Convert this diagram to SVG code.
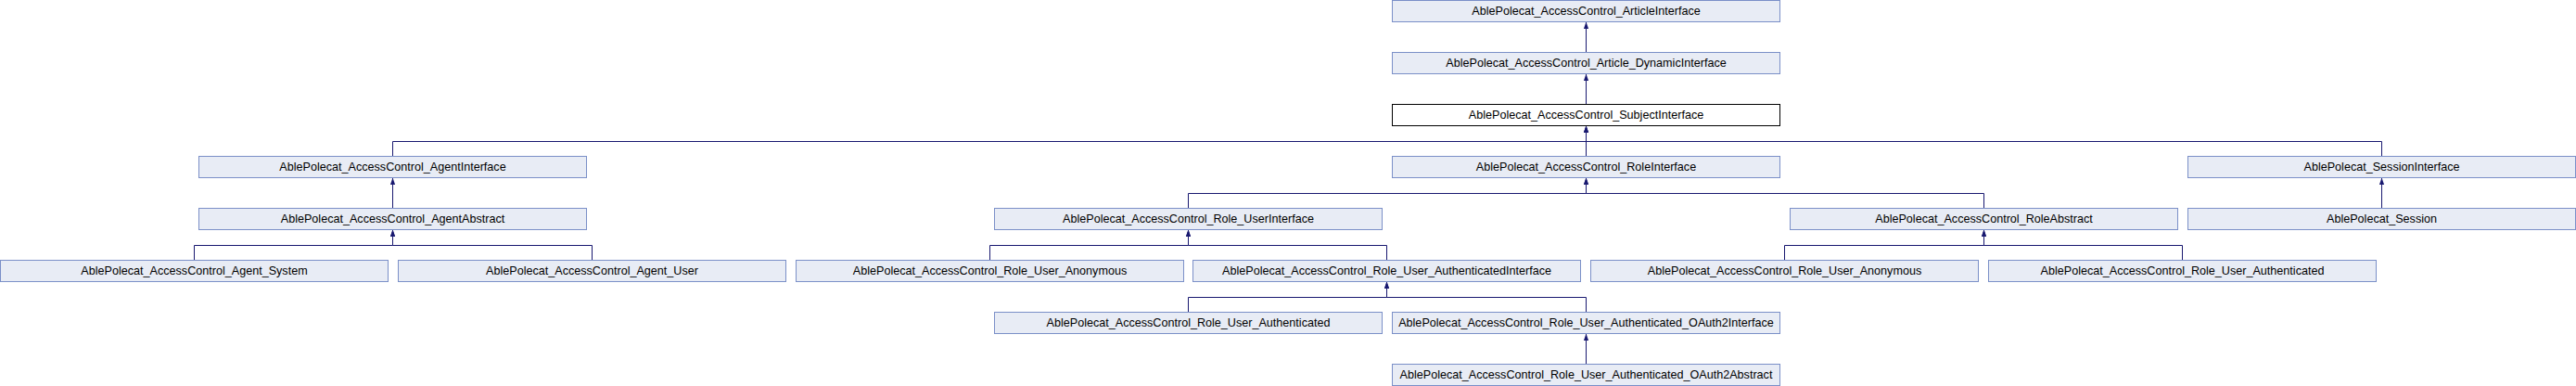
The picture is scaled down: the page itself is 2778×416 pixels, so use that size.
<svg xmlns="http://www.w3.org/2000/svg" width="2778" height="416" viewBox="0 0 2778 416">
<style>
.n rect{fill:#e8ecf5;stroke:#7b90c8;stroke-width:1}
.n.f rect{fill:#ffffff;stroke:#000000}
.n text{font-family:"Liberation Sans",Arial,sans-serif;font-size:12.6px;fill:#000;text-anchor:middle}
.e path{fill:none;stroke:#191970;stroke-width:1;marker-end:url(#ah)}
</style>
<defs>
<marker id="ah" markerUnits="userSpaceOnUse" viewBox="0 -3 8 6" markerWidth="8" markerHeight="6" refX="7.5" refY="0" orient="auto">
<path d="M0,-2.6 L7.5,0 L0,2.6 z" fill="#191970" stroke="none"/>
</marker>
</defs>
<g id="edges" class="e">
<path d="M1710.5,56.5 V23.5"/>
<path d="M1710.5,112.5 V79.5"/>
<path d="M423.5,168.5 V152.5 H1710.5 V135.5"/>
<path d="M1710.5,168.5 V135.5"/>
<path d="M2568.5,168.5 V152.5 H1710.5 V135.5"/>
<path d="M423.5,224.5 V191.5"/>
<path d="M1281.5,224.5 V208.5 H1710.5 V191.5"/>
<path d="M2139.5,224.5 V208.5 H1710.5 V191.5"/>
<path d="M2568.5,224.5 V191.5"/>
<path d="M209.5,280.5 V264.5 H423.5 V247.5"/>
<path d="M638.5,280.5 V264.5 H423.5 V247.5"/>
<path d="M1067.5,280.5 V264.5 H1281.5 V247.5"/>
<path d="M1495.5,280.5 V264.5 H1281.5 V247.5"/>
<path d="M1924.5,280.5 V264.5 H2139.5 V247.5"/>
<path d="M2353.5,280.5 V264.5 H2139.5 V247.5"/>
<path d="M1281.5,336.5 V320.5 H1495.5 V303.5"/>
<path d="M1710.5,336.5 V320.5 H1495.5 V303.5"/>
<path d="M1710.5,392.5 V359.5"/>
</g>
<g id="n_article" class="n"><rect x="1501.5" y="0.5" width="418" height="23"/><text x="1710.5" y="15.5">AblePolecat_AccessControl_ArticleInterface</text></g>
<g id="n_article_dynamic" class="n"><rect x="1501.5" y="56.5" width="418" height="23"/><text x="1710.5" y="71.5">AblePolecat_AccessControl_Article_DynamicInterface</text></g>
<g id="n_subject" class="n f"><rect x="1501.5" y="112.5" width="418" height="23"/><text x="1710.5" y="127.5">AblePolecat_AccessControl_SubjectInterface</text></g>
<g id="n_agent_if" class="n"><rect x="214.5" y="168.5" width="418" height="23"/><text x="423.5" y="183.5">AblePolecat_AccessControl_AgentInterface</text></g>
<g id="n_role_if" class="n"><rect x="1501.5" y="168.5" width="418" height="23"/><text x="1710.5" y="183.5">AblePolecat_AccessControl_RoleInterface</text></g>
<g id="n_session_if" class="n"><rect x="2359.5" y="168.5" width="418" height="23"/><text x="2568.5" y="183.5">AblePolecat_SessionInterface</text></g>
<g id="n_agent_abs" class="n"><rect x="214.5" y="224.5" width="418" height="23"/><text x="423.5" y="239.5">AblePolecat_AccessControl_AgentAbstract</text></g>
<g id="n_role_user_if" class="n"><rect x="1072.5" y="224.5" width="418" height="23"/><text x="1281.5" y="239.5">AblePolecat_AccessControl_Role_UserInterface</text></g>
<g id="n_role_abs" class="n"><rect x="1930.5" y="224.5" width="418" height="23"/><text x="2139.5" y="239.5">AblePolecat_AccessControl_RoleAbstract</text></g>
<g id="n_session" class="n"><rect x="2359.5" y="224.5" width="418" height="23"/><text x="2568.5" y="239.5">AblePolecat_Session</text></g>
<g id="n_agent_system" class="n"><rect x="0.5" y="280.5" width="418" height="23"/><text x="209.5" y="295.5">AblePolecat_AccessControl_Agent_System</text></g>
<g id="n_agent_user" class="n"><rect x="429.5" y="280.5" width="418" height="23"/><text x="638.5" y="295.5">AblePolecat_AccessControl_Agent_User</text></g>
<g id="n_role_user_anon" class="n"><rect x="858.5" y="280.5" width="418" height="23"/><text x="1067.5" y="295.5">AblePolecat_AccessControl_Role_User_Anonymous</text></g>
<g id="n_role_user_auth_if" class="n"><rect x="1286.5" y="280.5" width="418" height="23"/><text x="1495.5" y="295.5">AblePolecat_AccessControl_Role_User_AuthenticatedInterface</text></g>
<g id="n_role_user_anon2" class="n"><rect x="1715.5" y="280.5" width="418" height="23"/><text x="1924.5" y="295.5">AblePolecat_AccessControl_Role_User_Anonymous</text></g>
<g id="n_role_user_auth2" class="n"><rect x="2144.5" y="280.5" width="418" height="23"/><text x="2353.5" y="295.5">AblePolecat_AccessControl_Role_User_Authenticated</text></g>
<g id="n_role_user_auth" class="n"><rect x="1072.5" y="336.5" width="418" height="23"/><text x="1281.5" y="351.5">AblePolecat_AccessControl_Role_User_Authenticated</text></g>
<g id="n_oauth2_if" class="n"><rect x="1501.5" y="336.5" width="418" height="23"/><text x="1710.5" y="351.5">AblePolecat_AccessControl_Role_User_Authenticated_OAuth2Interface</text></g>
<g id="n_oauth2_abs" class="n"><rect x="1501.5" y="392.5" width="418" height="23"/><text x="1710.5" y="407.5">AblePolecat_AccessControl_Role_User_Authenticated_OAuth2Abstract</text></g>
</svg>
